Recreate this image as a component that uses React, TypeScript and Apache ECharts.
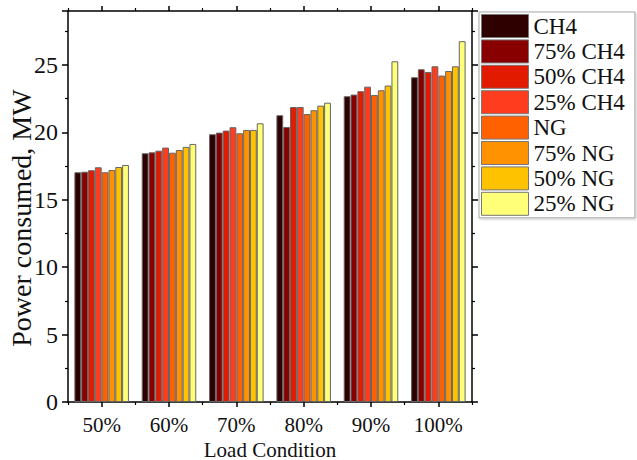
import React, { useEffect, useRef } from "react";
import * as echarts from "echarts";

const categories = ["50%", "60%", "70%", "80%", "90%", "100%"];
const seriesNames = ["CH4", "75% CH4", "50% CH4", "25% CH4", "NG", "75% NG", "50% NG", "25% NG"];
const colors = ["#2e0000", "#880000", "#e21a00", "#ff3c1e", "#ff6000", "#ff9200", "#ffc200", "#ffff78"];

const ch4 = [17.04, 18.45, 19.86, 21.27, 22.68, 24.09];
const ch4_75 = [17.08, 18.52, 19.98, 20.4, 22.8, 24.68];
const ch4_50 = [17.19, 18.64, 20.13, 21.88, 23.05, 24.48];
const ch4_25 = [17.41, 18.87, 20.38, 21.88, 23.39, 24.9];
const ng = [17.04, 18.49, 19.93, 21.36, 22.77, 24.21];
const ng_75 = [17.21, 18.69, 20.18, 21.64, 23.12, 24.55];
const ng_50 = [17.43, 18.92, 20.18, 21.98, 23.47, 24.9];
const ng_25 = [17.58, 19.14, 20.67, 22.2, 25.27, 26.76];
const seriesValues = [ch4, ch4_75, ch4_50, ch4_25, ng, ng_75, ng_50, ng_25];

const yAxisTitle = "Power consumed, MW";
const xAxisTitle = "Load Condition";

const FONT = "Liberation Serif";

export default function App() {
  const ref = useRef<HTMLDivElement>(null);
  useEffect(() => {
    const chart = echarts.init(ref.current!, null, { renderer: "svg" });
    const axisLine = { show: true, lineStyle: { color: "#000", width: 1.5 } };
    chart.setOption({
      animation: false,
      backgroundColor: "#fff",
      textStyle: { fontFamily: FONT },
      grid: { left: 68, right: 165, top: 11, bottom: 58, outerBoundsMode: "none", containLabel: false },
      legend: {
        orient: "vertical",
        left: 479,
        top: 12,
        padding: [2, 10, 2, 2],
        itemWidth: 47,
        itemHeight: 23,
        itemGap: 1.4,
        icon: "rect",
        borderColor: "#aaa",
        borderWidth: 1,
        backgroundColor: "#fff",
        shadowColor: "rgba(0,0,0,0.25)",
        shadowBlur: 2,
        shadowOffsetX: 1,
        shadowOffsetY: 1,
        itemStyle: { borderColor: "#777", borderWidth: 1 },
        textStyle: { fontFamily: FONT, fontSize: 23, lineHeight: 23, color: "#111" },
        data: seriesNames,
      },
      graphic: [
        {
          type: "text",
          x: 21,
          y: 218,
          rotation: Math.PI / 2,
          style: {
            text: yAxisTitle,
            fontSize: 28,
            fontFamily: FONT,
            fill: "#111",
            align: "center",
            verticalAlign: "middle",
          },
        },
      ],
      xAxis: [
        {
          type: "category",
          data: categories,
          position: "bottom",
          axisLine,
          axisTick: { show: true, alignWithLabel: true, length: 5, lineStyle: { color: "#000", width: 1.5 } },
          axisLabel: { fontFamily: FONT, fontSize: 21, color: "#111", margin: 12 },
          name: xAxisTitle,
          nameLocation: "middle",
          nameGap: 33,
          nameTextStyle: { fontFamily: FONT, fontSize: 21, lineHeight: 21, color: "#111" },
        },
        {
          type: "category",
          data: categories,
          position: "bottom",
          axisLine: { show: false },
          axisTick: { show: true, alignWithLabel: false, length: 3, lineStyle: { color: "#000", width: 1.2 } },
          axisLabel: { show: false },
        },
        {
          type: "category",
          data: categories,
          position: "top",
          axisLine,
          axisTick: { show: true, alignWithLabel: true, length: 5, lineStyle: { color: "#000", width: 1.5 } },
          axisLabel: { show: false },
        },
        {
          type: "category",
          data: categories,
          position: "top",
          axisLine: { show: false },
          axisTick: { show: true, alignWithLabel: false, length: 3, lineStyle: { color: "#000", width: 1.2 } },
          axisLabel: { show: false },
        },
      ],
      yAxis: [
        {
          type: "value",
          min: 0,
          max: 29,
          interval: 5,
          position: "left",
          axisLine,
          splitLine: { show: false },
          axisTick: { show: true, length: 6, lineStyle: { color: "#000", width: 1.5 } },
          minorTick: { show: true, splitNumber: 2, length: 3, lineStyle: { color: "#000", width: 1.2 } },
          axisLabel: {
            fontFamily: FONT,
            fontSize: 24,
            color: "#111",
            margin: 10,
            showMaxLabel: false,
          },
        },
        {
          type: "value",
          min: 0,
          max: 29,
          interval: 5,
          position: "right",
          axisLine,
          splitLine: { show: false },
          axisTick: { show: true, length: 6, lineStyle: { color: "#000", width: 1.5 } },
          minorTick: { show: true, splitNumber: 2, length: 3, lineStyle: { color: "#000", width: 1.2 } },
          axisLabel: { show: false },
        },
      ],
      series: seriesNames.map((name, i) => ({
        name,
        type: "bar",
        xAxisIndex: 0,
        yAxisIndex: 0,
        data: seriesValues[i],
        barGap: "0%",
        barCategoryGap: "19%",
        itemStyle: { color: colors[i], borderColor: "#666", borderWidth: 1 },
      })),
    });
    return () => chart.dispose();
  }, []);
  return (
    <div
      ref={ref}
      style={{ position: "absolute", left: 0, top: 0, width: 637, height: 460 }}
    />
  );
}
